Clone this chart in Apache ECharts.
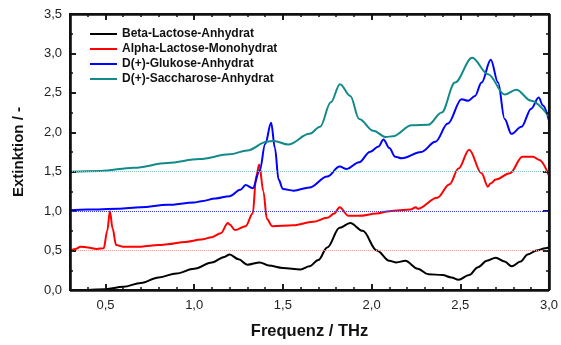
<!DOCTYPE html>
<html><head><meta charset="utf-8">
<script src="https://cdn.jsdelivr.net/npm/echarts@6/dist/echarts.min.js"></script>
<style>html,body{margin:0;padding:0;background:#fff}#c{width:561px;height:345px}</style>
</head><body><div id="c"></div>
<script>
var seriesNames = ['Beta-Lactose-Anhydrat','Alpha-Lactose-Monohydrat','D(+)-Glukose-Anhydrat','D(+)-Saccharose-Anhydrat'];
var baselines = [0.5, 1.0, 1.5];
var xMajorTicks = [0.5,1.0,1.5,2.0,2.5,3.0];
var xMinorTicks = [0.4,0.6,0.7,0.8,0.9,1.1,1.2,1.3,1.4,1.6,1.7,1.8,1.9,2.1,2.2,2.3,2.4,2.6,2.7,2.8,2.9];
var yMajorTicks = [0.5,1.0,1.5,2.0,2.5,3.0];
var yMinorTicks = [0.25,0.75,1.25,1.75,2.25,2.75,3.25];

var betaX = [0.30,0.40,0.50,0.60,0.70,0.80,0.90,1.00,1.10,1.17,1.20,1.25,1.30,1.37,1.42,1.50,1.60,1.65,1.70,1.75,1.82,1.88,1.95,2.03,2.10,2.14,2.19,2.26,2.32,2.40,2.45,2.49,2.55,2.60,2.65,2.70,2.75,2.79,2.84,2.88,2.93,2.98,3.00];
var betaY = [0.00,0.00,0.01,0.04,0.09,0.16,0.21,0.27,0.35,0.42,0.45,0.39,0.32,0.35,0.31,0.28,0.26,0.30,0.38,0.54,0.79,0.85,0.75,0.50,0.37,0.35,0.37,0.27,0.20,0.19,0.16,0.13,0.19,0.29,0.37,0.41,0.36,0.30,0.36,0.45,0.50,0.53,0.54];

var alphaX = [0.30,0.33,0.36,0.40,0.45,0.49,0.51,0.525,0.54,0.56,0.60,0.70,0.80,0.85,0.95,1.04,1.10,1.15,1.19,1.20,1.23,1.29,1.33,1.35,1.367,1.39,1.41,1.44,1.56,1.67,1.75,1.79,1.82,1.87,1.93,2.03,2.10,2.22,2.25,2.26,2.37,2.44,2.49,2.55,2.62,2.656,2.67,2.70,2.78,2.85,2.91,2.945,3.00];
var alphaY = [0.50,0.52,0.55,0.54,0.52,0.53,0.75,1.00,0.78,0.57,0.55,0.55,0.57,0.58,0.61,0.64,0.67,0.72,0.85,0.83,0.76,0.81,0.97,1.45,1.59,1.25,0.90,0.81,0.82,0.865,0.915,0.97,1.05,0.94,0.94,0.97,1.00,1.02,1.05,1.03,1.17,1.34,1.54,1.78,1.48,1.31,1.35,1.40,1.48,1.69,1.69,1.65,1.45];

var glukoseX = [0.30,0.40,0.57,0.70,0.85,1.00,1.04,1.12,1.20,1.26,1.29,1.33,1.37,1.40,1.434,1.455,1.476,1.50,1.56,1.65,1.75,1.82,1.86,1.93,1.99,2.04,2.067,2.10,2.133,2.17,2.28,2.36,2.43,2.507,2.545,2.583,2.62,2.672,2.713,2.75,2.788,2.845,2.90,2.942,2.966,3.00];
var glukoseY = [1.01,1.02,1.03,1.05,1.08,1.11,1.125,1.16,1.19,1.27,1.33,1.29,1.52,1.85,2.12,1.80,1.40,1.28,1.26,1.30,1.44,1.565,1.535,1.62,1.75,1.82,1.91,1.80,1.69,1.67,1.75,1.88,2.11,2.42,2.40,2.46,2.63,2.92,2.63,2.17,1.98,2.07,2.30,2.44,2.34,2.15];

var saccharoseX = [0.30,0.47,0.66,0.85,1.03,1.20,1.30,1.41,1.45,1.53,1.65,1.71,1.77,1.822,1.88,1.93,2.01,2.08,2.12,2.226,2.32,2.395,2.47,2.567,2.657,2.75,2.816,2.90,3.00];
var saccharoseY = [1.50,1.51,1.55,1.61,1.66,1.72,1.77,1.88,1.89,1.845,1.98,2.07,2.38,2.61,2.46,2.17,2.02,1.94,1.95,2.09,2.095,2.25,2.63,2.945,2.735,2.48,2.54,2.40,2.20];

var X_MIN = 0.3, X_MAX = 3.0, Y_MIN = 0, Y_MAX = 3.5;

function pairs(xs, ys){ return xs.map(function(x,i){ return [x, ys[i]]; }); }
function fmt(v){ return v.toFixed(1).replace('.', ','); }

var FONT = '"Liberation Sans", Arial, sans-serif';
var colors = ['#000000','#ff0000','#0000ff','#138a8a'];
var baseColors = ['#ff9a9a','#3a3aff','#7fc4c4'];
var FRAME = '#111111';

// frame edges as full-length marker lines (same mechanism as the dotted baselines)
function frameItems(){
  var st = {color: FRAME, type: 'solid', width: 2.6, opacity: 1};
  return [
    {yAxis: Y_MIN, lineStyle: st}, {yAxis: Y_MAX, lineStyle: st},
    {xAxis: X_MIN, lineStyle: st}, {xAxis: X_MAX, lineStyle: st}
  ];
}
// inward ticks as short segments, built from the tick arrays
function tickItems(){
  var d = [];
  var st = {color: FRAME, type: 'solid', width: 1.5, opacity: 1};
  function seg(a, b){ d.push([{coord: a, lineStyle: st}, {coord: b, lineStyle: st}]); }
  var yl = (Y_MAX - Y_MIN) / 279 * 6, xl = (X_MAX - X_MIN) / 481 * 6;
  xMajorTicks.forEach(function(x){ seg([x, Y_MIN], [x, Y_MIN + yl]); seg([x, Y_MAX], [x, Y_MAX - yl]); });
  xMinorTicks.forEach(function(x){ seg([x, Y_MIN], [x, Y_MIN + yl / 2]); seg([x, Y_MAX], [x, Y_MAX - yl / 2]); });
  yMajorTicks.forEach(function(y){ seg([X_MIN, y], [X_MIN + xl, y]); seg([X_MAX, y], [X_MAX - xl, y]); });
  yMinorTicks.forEach(function(y){ seg([X_MIN, y], [X_MIN + xl / 2, y]); seg([X_MAX, y], [X_MAX - xl / 2, y]); });
  return d;
}

function line(name, data, color, base, baseColor, extra){
  var s = {
    name: name, type: 'line', data: data, xAxisIndex: 0, yAxisIndex: 0,
    symbol: 'none', showSymbol: false, smooth: 0.35, smoothMonotone: 'x',
    lineStyle: {color: color, width: 2}, itemStyle: {color: color}, z: 3
  };
  if (base != null) {
    var items = [{yAxis: base, lineStyle: {color: baseColor, type: 'dotted', width: 1}}];
    if (extra) items = items.concat(extra);
    s.markLine = {
      silent: true, symbol: ['none','none'], label: {show: false},
      lineStyle: {color: baseColor, type: 'dotted', width: 1, opacity: 1},
      emphasis: {disabled: true},
      data: items, animation: false
    };
  }
  return s;
}
function axl(onZero){ var o = {show: true, lineStyle: {color: FRAME, width: 2}}; if (onZero === false) o.onZero = false; return o; }
function tick(len){ return {show: true, inside: true, length: len, lineStyle: {color: FRAME, width: 1.5}}; }
var hiddenSplit = {show: false};

var chart = echarts.init(document.getElementById('c'));
chart.setOption({
  animation: false,
  backgroundColor: '#fff',
  grid: {left: 70, right: 10, top: 14, bottom: 52, show: true, borderColor: FRAME, borderWidth: 2, backgroundColor: 'rgba(0,0,0,0)'},
  legend: {
    data: seriesNames, orient: 'vertical', left: 85, top: 23,
    icon: 'rect', itemWidth: 27, itemHeight: 2, itemGap: 3,
    textStyle: {fontFamily: FONT, fontSize: 12, fontWeight: 'bold', color: '#111'}
  },
  xAxis: [
    {type: 'value', position: 'bottom', min: X_MIN, max: X_MAX, splitNumber: 5,
     name: 'Frequenz / THz', nameLocation: 'middle', nameGap: 33,
     nameTextStyle: {fontFamily: FONT, fontSize: 16.5, fontWeight: 'bold', color: '#111'},
     axisLine: axl(), axisTick: tick(6),
     axisLabel: {showMinLabel: false, margin: 9, formatter: fmt, fontFamily: FONT, fontSize: 13, color: '#222'},
     splitLine: hiddenSplit},
    {type: 'value', position: 'top', min: X_MIN, max: X_MAX, splitNumber: 5,
     axisLine: axl(false), axisTick: tick(6),
     axisLabel: {show: false}, splitLine: hiddenSplit}
  ],
  yAxis: [
    {type: 'value', position: 'left', min: Y_MIN, max: Y_MAX, interval: 0.5,
     name: 'Extinktion / -', nameLocation: 'middle', nameGap: 44,
     nameTextStyle: {fontFamily: FONT, fontSize: 15, fontWeight: 'bold', color: '#111'},
     axisLine: axl(), axisTick: tick(6),
     axisLabel: {margin: 8, formatter: fmt, fontFamily: FONT, fontSize: 13, color: '#222'},
     splitLine: hiddenSplit},
    {type: 'value', position: 'right', min: Y_MIN, max: Y_MAX, interval: 0.5,
     axisLine: axl(), axisTick: tick(6),
     axisLabel: {show: false}, splitLine: hiddenSplit}
  ],
  series: [
    line(seriesNames[0], pairs(betaX, betaY), colors[0], null, null, null),
    line(seriesNames[1], pairs(alphaX, alphaY), colors[1], baselines[0], baseColors[0], tickItems()),
    line(seriesNames[2], pairs(glukoseX, glukoseY), colors[2], baselines[1], baseColors[1], null),
    line(seriesNames[3], pairs(saccharoseX, saccharoseY), colors[3], baselines[2], baseColors[2], frameItems())
  ]
});
</script></body></html>
